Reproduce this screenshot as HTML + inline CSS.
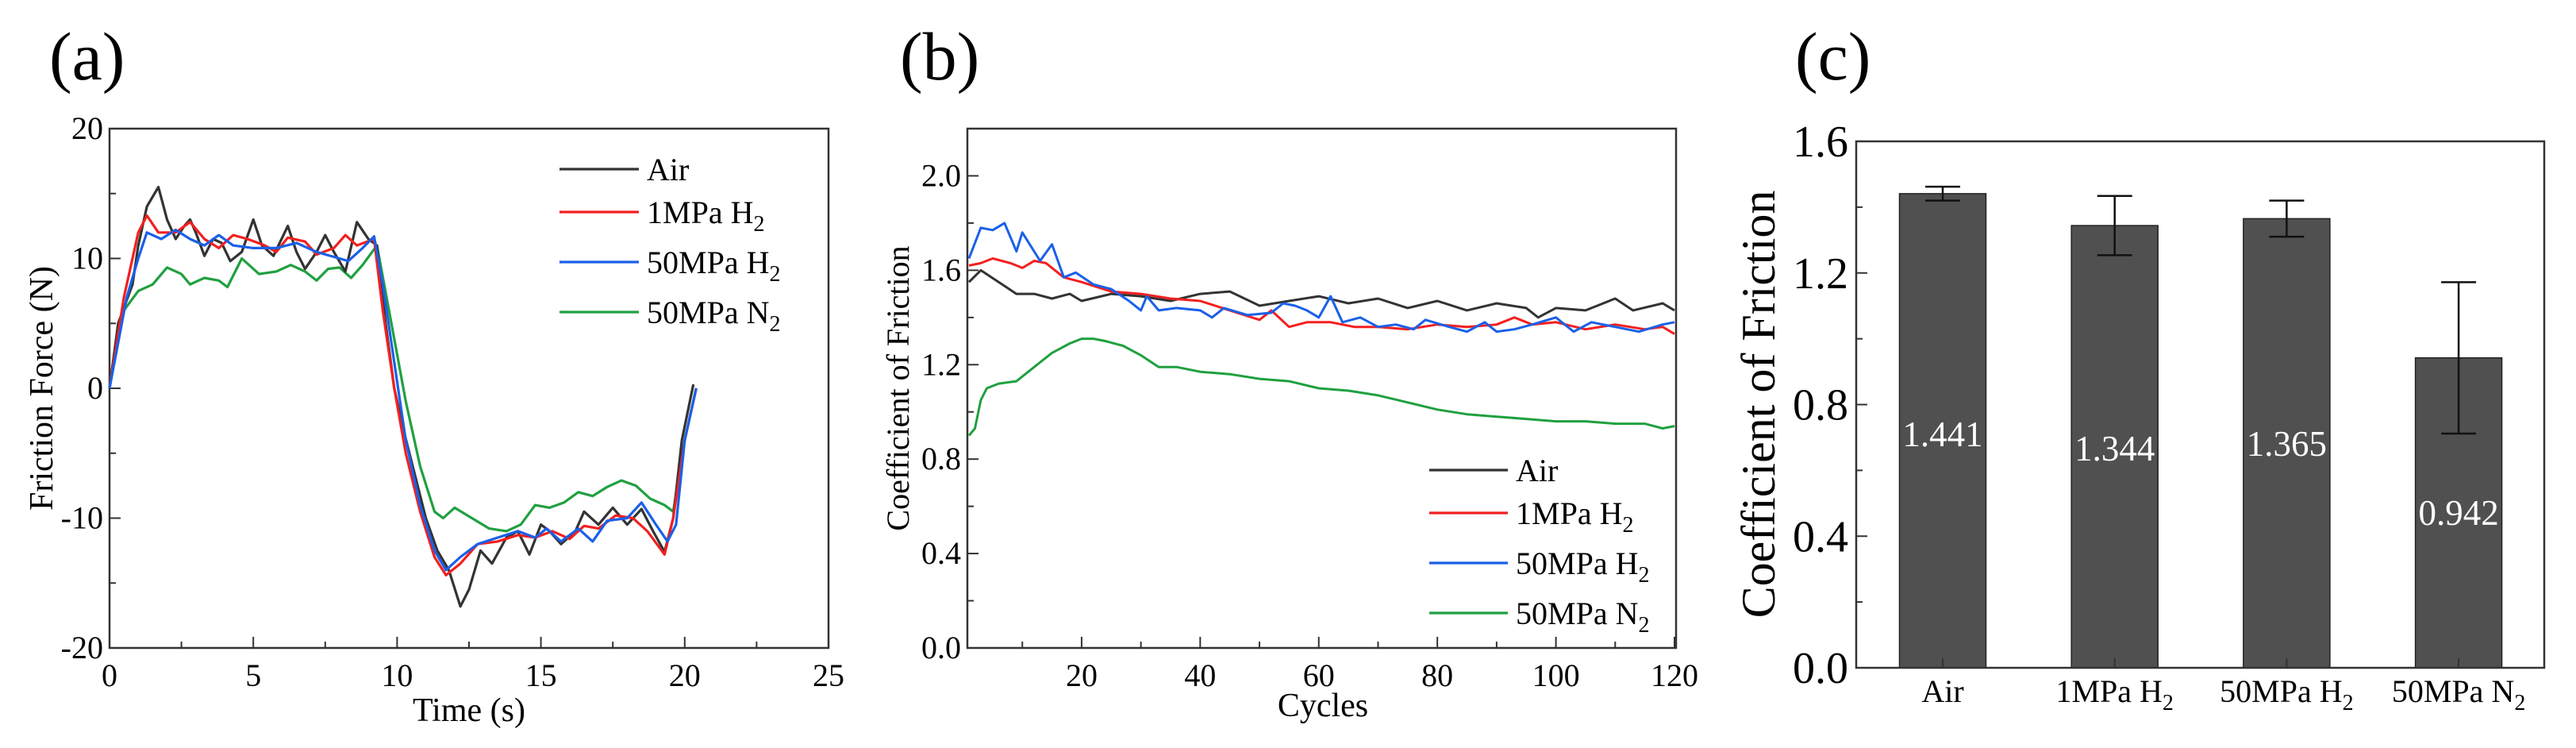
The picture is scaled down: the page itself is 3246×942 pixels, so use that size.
<!DOCTYPE html>
<html><head><meta charset="utf-8"><style>
html,body{margin:0;padding:0;background:#fff;}
svg{display:block;font-family:"Liberation Serif",serif;}
</style></head><body>
<svg id="fig" xmlns="http://www.w3.org/2000/svg" width="3246" height="942" viewBox="0 0 3246 942"></svg>
<script>
// ---------- Panel (a) data ----------
const aAirT=[0,0.3,0.8,1.0,1.3,1.7,2.0,2.3,2.6,2.8,3.0,3.3,3.6,3.9,4.2,4.6,5.0,5.3,5.7,6.2,6.5,6.8,7.2,7.5,7.8,8.2,8.6,9.0,9.3,9.6,9.9,10.2,10.6,11.0,11.4,11.8,12.2,12.5,12.9,13.3,13.8,14.2,14.6,15.0,15.3,15.7,16.2,16.5,17.0,17.5,18.0,18.5,18.9,19.3,19.6,19.9,20.3];
const aAirV=[0,5,8,11,14,15.5,13,11.5,12.5,13,12,10.2,11.5,11.2,9.8,10.5,13,11,10.2,12.5,10.5,9.2,10.5,11.8,10.5,9,12.8,11.5,11,5,0,-3,-6.5,-10,-12.5,-14,-16.8,-15.5,-12.5,-13.5,-11.5,-11,-12.8,-10.5,-11,-12,-11,-9.5,-10.5,-9.2,-10.5,-9.3,-11,-12.6,-10,-4,0.3];
const aH1T=[0,0.5,1.0,1.3,1.7,2.3,2.8,3.3,3.8,4.3,4.8,5.4,5.8,6.2,6.8,7.2,7.8,8.2,8.6,9.2,9.5,9.9,10.3,10.8,11.3,11.7,12.2,12.8,13.5,14.2,14.8,15.4,16.0,16.5,17.0,17.6,18.2,18.7,19.3,19.6,20.0,20.4];
const aH1V=[0,7,12,13.3,12,12,12.8,11.5,10.8,11.8,11.5,11,10.5,11.6,11.3,10.3,10.8,11.8,11,11.5,6,0,-5,-9.5,-13,-14.4,-13.5,-12,-11.8,-11.3,-11.5,-11,-11.6,-10.6,-10.8,-9.8,-10,-11,-12.8,-10,-4,0];
const aH50T=[0,0.6,1.0,1.3,1.8,2.3,2.8,3.3,3.8,4.3,5.0,5.8,6.5,7.2,8.0,8.3,8.8,9.2,9.5,9.9,10.3,10.8,11.3,11.7,12.2,12.8,13.5,14.2,14.8,15.2,15.7,16.3,16.8,17.3,18.0,18.5,19.0,19.4,19.7,20.0,20.4];
const aH50V=[0,7,10,12,11.5,12.2,11.5,11,11.8,11,10.8,10.8,11.2,10.5,10,9.8,10.8,11.7,8,2,-4,-9,-12.5,-14,-13,-12,-11.5,-11,-11.5,-10.8,-11.8,-10.8,-11.8,-10.2,-10,-8.8,-10.5,-11.8,-10.5,-4,0];
const aN2T=[0,0.5,1.0,1.5,2.0,2.5,2.8,3.3,3.8,4.1,4.6,5.2,5.8,6.3,6.8,7.2,7.6,8.0,8.4,8.8,9.3,9.8,10.3,10.8,11.3,11.6,12.0,12.6,13.2,13.8,14.3,14.8,15.3,15.8,16.3,16.8,17.3,17.8,18.3,18.8,19.3,19.6,20.0,20.4];
const aN2V=[0,6,7.5,8,9.3,8.8,8,8.5,8.3,7.8,10,8.8,9,9.5,9,8.3,9.2,9.3,8.5,9.5,11,5,-1,-6,-9.5,-10,-9.2,-10,-10.8,-11,-10.5,-9,-9.2,-8.8,-8,-8.3,-7.6,-7.1,-7.5,-8.5,-9,-9.5,-4,0];
const aXTicks=[0,5,10,15,20,25];
const aYTicks=[-20,-10,0,10,20];
// ---------- Panel (b) data ----------
const bAirC=[1,3,6,9,12,15,18,20,25,30,35,40,45,50,55,60,65,70,75,80,85,90,95,97,100,105,110,113,118,120];
const bAirV=[1.55,1.60,1.55,1.50,1.50,1.48,1.50,1.47,1.50,1.49,1.47,1.50,1.51,1.45,1.47,1.49,1.46,1.48,1.44,1.47,1.43,1.46,1.44,1.40,1.44,1.43,1.48,1.43,1.46,1.43];
const bH1C=[1,3,5,8,10,12,14,17,20,25,30,35,40,45,50,52,55,58,62,66,70,75,80,85,90,93,96,100,105,110,115,118,120];
const bH1V=[1.62,1.63,1.65,1.63,1.61,1.64,1.63,1.57,1.55,1.51,1.50,1.48,1.47,1.43,1.39,1.43,1.36,1.38,1.38,1.36,1.36,1.35,1.37,1.36,1.37,1.40,1.37,1.38,1.35,1.37,1.35,1.36,1.33];
const bH50C=[1,3,5,7,9,10,13,15,17,19,22,25,28,30,31,33,36,40,42,44,48,52,54,56,58,60,62,64,67,70,73,76,78,82,85,88,90,93,96,100,103,106,110,114,118,120];
const bH50V=[1.65,1.78,1.77,1.80,1.68,1.76,1.64,1.71,1.57,1.59,1.54,1.52,1.47,1.43,1.49,1.43,1.44,1.43,1.40,1.44,1.41,1.42,1.46,1.45,1.43,1.40,1.49,1.38,1.40,1.36,1.37,1.35,1.39,1.36,1.34,1.38,1.34,1.35,1.37,1.40,1.34,1.38,1.36,1.34,1.37,1.38];
const bN2C=[1,2,3,4,6,9,12,15,18,20,22,24,27,30,33,36,40,45,50,55,60,65,70,75,80,85,90,95,100,105,110,115,118,120];
const bN2V=[0.90,0.93,1.05,1.10,1.12,1.13,1.19,1.25,1.29,1.31,1.31,1.30,1.28,1.24,1.19,1.19,1.17,1.16,1.14,1.13,1.10,1.09,1.07,1.04,1.01,0.99,0.98,0.97,0.96,0.96,0.95,0.95,0.93,0.94];
const bXTicks=[20,40,60,80,100,120];
const bYTicks=[0.0,0.4,0.8,1.2,1.6,2.0];
// ---------- Panel (c) data ----------
const cCats=["Air","1MPa H","50MPa H","50MPa N"];
const cSubs=["","2","2","2"];
const cVals=[1.441,1.344,1.365,0.942];
const cErr=[0.021,0.09,0.055,0.23];
const cLabelVals=["1.441","1.344","1.365","0.942"];
const cYTicks=[0.0,0.4,0.8,1.2,1.6];

const NS="http://www.w3.org/2000/svg";
const svg=document.getElementById('fig');
function mk(tag,attrs,parent,text){const e=document.createElementNS(NS,tag);for(const k in attrs)e.setAttribute(k,attrs[k]);if(text!==undefined)e.textContent=text;(parent||svg).appendChild(e);return e;}
function lin(d0,d1,r0,r1){return v=>r0+(v-d0)/(d1-d0)*(r1-r0);}
function fmt1(v){return v.toFixed(1);}

// ---------- Panel (a) ----------
(function(){
 const L=138,R=1044,T=162,B=816;
 const x=lin(0,25,L,R), y=lin(-20,20,B,T);
 const g=mk('g',{});
 
 
 const pl=mk('text',{x:62,y:100,'font-size':86},g,'(a)');
 
 
 const fr=mk('rect',{x:L,y:T,width:R-L,height:B-T,fill:'none',stroke:'#333','stroke-width':2.5},g);
 
 
 for(let t=0;t<=25;t+=2.5){const major=(t%5===0);mk('line',{x1:x(t),x2:x(t),y1:B,y2:B-(major?14:8),stroke:'#333','stroke-width':2},g);}
 for(let t=-20;t<=20;t+=5){const major=(t%10===0);mk('line',{x1:L,x2:L+(major?14:8),y1:y(t),y2:y(t),stroke:'#333','stroke-width':2},g);}
 aXTicks.forEach(t=>{const e=mk('text',{x:x(t),y:864,'font-size':40,'text-anchor':'middle'},g,String(t));
  
  });
 aYTicks.forEach(t=>{const e=mk('text',{x:L-8,y:y(t)+13,'font-size':40,'text-anchor':'end'},g,String(t));
  
  });
 const xt=mk('text',{x:591,y:908,'font-size':42,'text-anchor':'middle'},g,'Time (s)');
 
 
 const yt=mk('text',{x:0,y:0,'font-size':42,'text-anchor':'middle',transform:'translate(66,489) rotate(-90)'},g,'Friction Force (N)');
 
 
 const series=[[aAirT,aAirV,'#333333','series-air'],[aH1T,aH1V,'#f22020','series-1mpa-h2'],[aH50T,aH50V,'#1a60e8','series-50mpa-h2'],[aN2T,aN2V,'#20a040','series-50mpa-n2']];
 const order=[3,0,1,2];
 order.forEach(i=>{const s=series[i];const d=s[0].map((t,j)=>(j?'L':'M')+x(t).toFixed(1)+','+y(s[1][j]).toFixed(1)).join('');
  const p=mk('path',{d:d,fill:'none',stroke:s[2],'stroke-width':3.2,'stroke-linejoin':'round'},g);
  
  });
 const leg=[['Air','','#333333'],['1MPa H','2','#f22020'],['50MPa H','2','#1a60e8'],['50MPa N','2','#20a040']];
 const ly=[213,267,330,393];
 leg.forEach((l,i)=>{mk('line',{x1:705,x2:805,y1:ly[i],y2:ly[i],stroke:l[2],'stroke-width':3.2},g);
  const t=mk('text',{x:815,y:ly[i]+14,'font-size':40},g,l[0]);
  
  
  if(l[1])mk('tspan',{dy:10,'font-size':28},t,l[1]);});
})();

// ---------- Panel (b) ----------
(function(){
 const L=1219,R=2112,T=162,B=816;
 const x=lin(1,120,1221,2110), y=lin(0,2.2,B,T);
 const g=mk('g',{});
 
 
 const pl=mk('text',{x:1134,y:100,'font-size':86},g,'(b)');
 
 
 const fr=mk('rect',{x:L,y:T,width:R-L,height:B-T,fill:'none',stroke:'#333','stroke-width':2.5},g);
 
 
 for(let c=10;c<=120;c+=10){const major=(c%20===0);mk('line',{x1:x(c),x2:x(c),y1:B,y2:B-(major?14:8),stroke:'#333','stroke-width':2},g);}
 for(let v=0;v<=2.2001;v+=0.2){const major=(Math.round(v*10)%4===0);mk('line',{x1:L,x2:L+(major?14:8),y1:y(v),y2:y(v),stroke:'#333','stroke-width':2},g);}
 bXTicks.forEach(t=>{const e=mk('text',{x:x(t),y:864,'font-size':40,'text-anchor':'middle'},g,String(t));
  
  });
 bYTicks.forEach(t=>{const e=mk('text',{x:L-8,y:y(t)+13,'font-size':40,'text-anchor':'end'},g,fmt1(t));
  
  });
 const xt=mk('text',{x:1667,y:902,'font-size':42,'text-anchor':'middle'},g,'Cycles');
 
 
 const yt=mk('text',{x:0,y:0,'font-size':40,'text-anchor':'middle',transform:'translate(1145,489) rotate(-90)'},g,'Coefficient of Friction');
 
 
 const series=[[bAirC,bAirV,'#333333','series-air'],[bH1C,bH1V,'#f22020','series-1mpa-h2'],[bH50C,bH50V,'#1a60e8','series-50mpa-h2'],[bN2C,bN2V,'#20a040','series-50mpa-n2']];
 series.forEach(s=>{const d=s[0].map((c,j)=>(j?'L':'M')+x(c).toFixed(1)+','+y(s[1][j]).toFixed(1)).join('');
  const p=mk('path',{d:d,fill:'none',stroke:s[2],'stroke-width':3,'stroke-linejoin':'round'},g);
  
  });
 const leg=[['Air','','#333333'],['1MPa H','2','#f22020'],['50MPa H','2','#1a60e8'],['50MPa N','2','#20a040']];
 const ly=[592,646,709,772];
 leg.forEach((l,i)=>{mk('line',{x1:1801,x2:1900,y1:ly[i],y2:ly[i],stroke:l[2],'stroke-width':3.2},g);
  const t=mk('text',{x:1910,y:ly[i]+14,'font-size':40},g,l[0]);
  
  
  if(l[1])mk('tspan',{dy:10,'font-size':28},t,l[1]);});
})();

// ---------- Panel (c) ----------
(function(){
 const L=2339,R=3206,T=178,B=841;
 const y=lin(0,1.6,B,T);
 const cx=i=>2448+i*216.7;
 const bw=109;
 const g=mk('g',{});
 
 
 const pl=mk('text',{x:2262,y:100,'font-size':86},g,'(c)');
 
 
 cVals.forEach((v,i)=>{
  const r=mk('rect',{x:cx(i)-bw/2,y:y(v),width:bw,height:B-y(v),fill:'#505050',stroke:'#222','stroke-width':1.5},g);
  
  
  const e=cErr[i];
  const eb=mk('path',{d:`M${cx(i)},${y(v+e)}L${cx(i)},${y(v-e)}M${cx(i)-22},${y(v+e)}L${cx(i)+22},${y(v+e)}M${cx(i)-22},${y(v-e)}L${cx(i)+22},${y(v-e)}`,stroke:'#111','stroke-width':2.5,fill:'none'},g);
  
  
 });
 const lblY=[546,564,558,645];
 cLabelVals.forEach((s,i)=>{const t=mk('text',{x:cx(i),y:lblY[i]+16,'font-size':45,'text-anchor':'middle',fill:'#fff'},g,s);
  
  });
 const fr=mk('rect',{x:L,y:T,width:R-L,height:B-T,fill:'none',stroke:'#333','stroke-width':2.5},g);
 
 
 for(let v=0;v<=1.6001;v+=0.2){const major=(Math.round(v*10)%4===0);mk('line',{x1:L,x2:L+(major?14:8),y1:y(v),y2:y(v),stroke:'#333','stroke-width':2},g);}
 cVals.forEach((v,i)=>mk('line',{x1:cx(i),x2:cx(i),y1:B,y2:B-12,stroke:'#333','stroke-width':2},g));
 cYTicks.forEach(t=>{const e=mk('text',{x:L-10,y:y(t)+19,'font-size':56,'text-anchor':'end'},g,fmt1(t));
  
  });
 cCats.forEach((c,i)=>{const t=mk('text',{x:cx(i),y:884,'font-size':40,'text-anchor':'middle'},g,c);
  
  
  if(cSubs[i])mk('tspan',{dy:10,'font-size':28},t,cSubs[i]);});
 const yt=mk('text',{x:0,y:0,'font-size':60,'text-anchor':'middle',transform:'translate(2236,509) rotate(-90)'},g,'Coefficient of Friction');
 
 
})();
</script>
</body></html>
